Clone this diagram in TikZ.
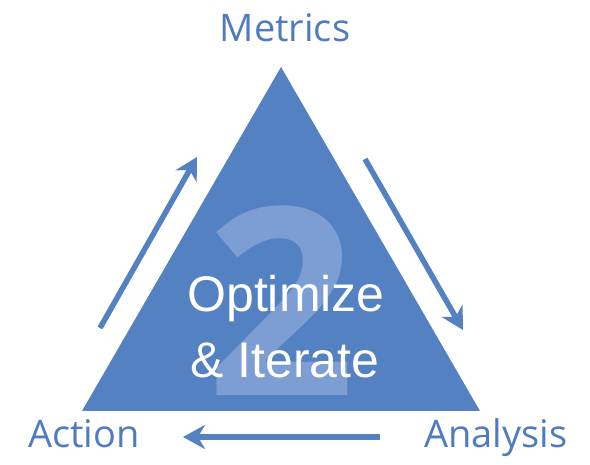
\documentclass[tikz,border=0pt]{standalone}
\usepackage{fontspec}
\setmainfont{Open Sans}
\newfontfamily\arialfont{Liberation Sans}
\usepackage{xcolor}
\usepackage{tikz}
\usetikzlibrary{positioning,arrows.meta}
\definecolor{tri}{HTML}{5481C1}
\definecolor{numfg}{HTML}{7C9ED3}
\definecolor{lblfg}{HTML}{4F7CC0}

\begin{document}
\begin{tikzpicture}[
  x=1pt,y=-1pt,
  lbl/.style={font=\fontsize{38}{40}\selectfont,color=lblfg,inner sep=0pt},
  core/.style={font=\arialfont\fontsize{50}{56}\selectfont,color=white,inner sep=0pt},
  arr/.style={-{Stealth[length=22pt,width=24pt,inset=7pt]},line width=5.5pt,draw=tri}]
  \useasboundingbox (0,0) rectangle (590,465);
  \coordinate (apex) at (281,67);
  \coordinate (bl) at (82,411);
  \coordinate (br) at (480,411);
  \fill[tri] (apex) -- (bl) -- (br) -- cycle;
  \node[anchor=base,inner sep=0pt,text=numfg,font=\fontsize{262}{262}\selectfont\bfseries] (num) at (281,396) {2};
  \node[core,anchor=base] (opt) at (286,312) {Optimize};
  \node[core,anchor=base] (iter) at (285,378) {\& Iterate};

  \node[lbl,anchor=base] (metrics) at (285,42) {Metrics};
  \node[lbl,anchor=base west] (action) at (28,448) {Action};
  \node[lbl,anchor=base west] (analysis) at (424,448) {Analysis};

  \coordinate (upa) at (100,328);
  \coordinate (upb) at (197,157);
  \coordinate (dna) at (365,159);
  \coordinate (dnb) at (463,330);
  \coordinate (lfa) at (380,437);
  \coordinate (lfb) at (183,437);
  \draw[arr] (upa) -- (upb);
  \draw[arr] (dna) -- (dnb);
  \draw[arr] (lfa) -- (lfb);
\end{tikzpicture}
\end{document}
